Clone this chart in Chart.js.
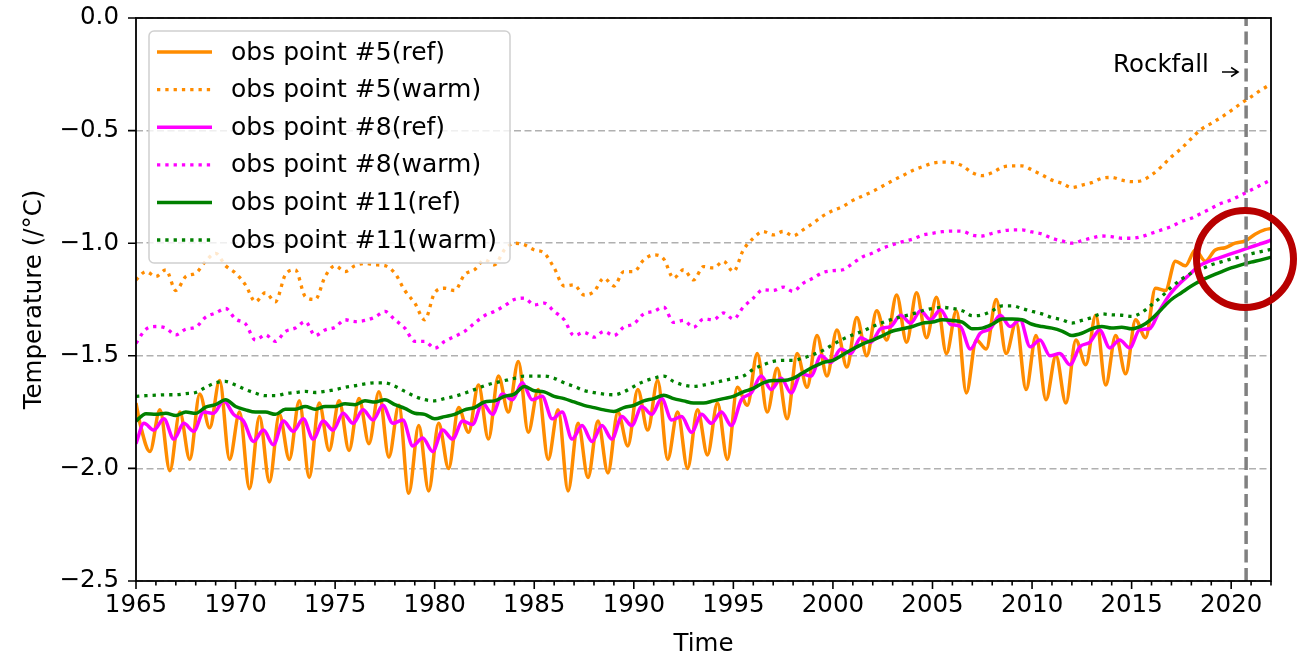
<!DOCTYPE html>
<html>
<head>
<meta charset="utf-8">
<title>Temperature at observation points</title>
<script src="https://cdn.jsdelivr.net/npm/chart.js@4.4.1/dist/chart.umd.min.js"></script>
<style>
  html, body { margin: 0; padding: 0; background: #ffffff; }
  #wrap { width: 1298px; height: 660px; }
</style>
</head>
<body>
<div id="wrap"><canvas id="chart" width="1298" height="660"></canvas></div>
<script>
// ---- time grids (decimal years) ----
// ref series are sampled at their seasonal peaks / troughs, the others every half year
const yearsHalf = [];
for (let i = 0; i <= 114; i++) yearsHalf.push(1965 + i * 0.5);
const yearsRef5 = [1965];
const yearsRef8 = [1965];
for (let i = 0; i < 114; i++) {
    yearsRef5.push(+(1965.2 + i * 0.5).toFixed(1));
    yearsRef8.push(+(1965.4 + i * 0.5).toFixed(1));
}
yearsRef5.push(2022);
yearsRef8.push(2022);

// ---- series values (°C) ----
const ref5 = [-1.71,
    -1.80, -1.925, -1.74, -2.01, -1.75, -1.96, -1.67, -1.82, -1.61, -1.96,   // 1965-69
    -1.75, -2.09, -1.77, -2.06, -1.76, -1.96, -1.70, -2.04, -1.71, -1.92,    // 1970-74
    -1.70, -1.92, -1.69, -1.89, -1.66, -1.95, -1.72, -2.11, -1.81, -2.10,    // 1975-79
    -1.80, -2.00, -1.73, -1.84, -1.63, -1.87, -1.59, -1.75, -1.525, -1.84,   // 1980-84
    -1.65, -1.96, -1.74, -2.10, -1.80, -2.04, -1.79, -2.02, -1.75, -1.90,    // 1985-89
    -1.65, -1.83, -1.61, -1.96, -1.75, -2.00, -1.74, -1.94, -1.71, -1.96,    // 1990-94
    -1.64, -1.72, -1.49, -1.75, -1.555, -1.78, -1.49, -1.64, -1.41, -1.59,   // 1995-99
    -1.385, -1.55, -1.33, -1.50, -1.30, -1.43, -1.23, -1.44, -1.22, -1.42,   // 2000-04
    -1.24, -1.49, -1.30, -1.665, -1.43, -1.47, -1.25, -1.49, -1.35, -1.65,   // 2005-09
    -1.41, -1.695, -1.50, -1.71, -1.43, -1.54, -1.32, -1.63, -1.41, -1.58,   // 2010-14
    -1.34, -1.42, -1.20, -1.21, -1.08, -1.10, -1.03, -1.08, -1.03, -1.02,    // 2015-19
    -1.00, -0.99, -0.96, -0.94,                                              // 2020-21
    -0.935];

const warm5 = [
    -1.163, -1.126, -1.148, -1.118, -1.21, -1.148, -1.133, -1.08, -1.045, -1.10,   // 1965-69
    -1.133, -1.185, -1.26, -1.22, -1.26, -1.14, -1.118, -1.237, -1.25, -1.148,     // 1970-74
    -1.10, -1.126, -1.10, -1.09, -1.096, -1.10, -1.133, -1.21, -1.266, -1.34,      // 1975-79
    -1.22, -1.20, -1.21, -1.14, -1.118, -1.074, -1.096, -1.03, -1.00, -1.007,      // 1980-84
    -1.03, -1.044, -1.11, -1.19, -1.185, -1.23, -1.215, -1.155, -1.19, -1.126,     // 1985-89
    -1.126, -1.074, -1.052, -1.07, -1.155, -1.118, -1.163, -1.104, -1.11, -1.08,   // 1990-94
    -1.126, -1.03, -0.978, -0.948, -0.963, -0.948, -0.967, -0.941, -0.911, -0.879, // 1995-99
    -0.855, -0.837, -0.81, -0.79, -0.77, -0.746, -0.722, -0.70, -0.677, -0.66,     // 2000-04
    -0.645, -0.64, -0.642, -0.656, -0.687, -0.70, -0.687, -0.663, -0.657, -0.657,  // 2005-09
    -0.675, -0.697, -0.72, -0.734, -0.753, -0.742, -0.731, -0.712, -0.708, -0.72,  // 2010-14
    -0.727, -0.722, -0.697, -0.66, -0.616, -0.579, -0.535, -0.494, -0.468, -0.441, // 2015-19
    -0.411, -0.379, -0.35, -0.32,                                                  // 2020-21
    -0.293];

const ref8 = [-1.89,
    -1.80, -1.83, -1.78, -1.87, -1.80, -1.835, -1.75, -1.755, -1.70, -1.76,     // 1965-69
    -1.79, -1.88, -1.83, -1.895, -1.79, -1.835, -1.78, -1.87, -1.79, -1.83,     // 1970-74
    -1.755, -1.80, -1.74, -1.785, -1.72, -1.80, -1.785, -1.90, -1.865, -1.925,  // 1975-79
    -1.83, -1.87, -1.79, -1.805, -1.71, -1.76, -1.67, -1.695, -1.62, -1.695,    // 1980-84
    -1.68, -1.78, -1.75, -1.87, -1.81, -1.88, -1.81, -1.87, -1.77, -1.81,       // 1985-89
    -1.725, -1.76, -1.69, -1.785, -1.77, -1.84, -1.76, -1.80, -1.75, -1.81,     // 1990-94
    -1.695, -1.665, -1.59, -1.65, -1.60, -1.665, -1.58, -1.59, -1.50, -1.53,    // 1995-99
    -1.47, -1.49, -1.42, -1.44, -1.38, -1.37, -1.32, -1.355, -1.30, -1.34,      // 2000-04
    -1.295, -1.36, -1.37, -1.47, -1.40, -1.38, -1.32, -1.37, -1.34, -1.46,      // 2005-09
    -1.43, -1.50, -1.49, -1.54, -1.46, -1.44, -1.385, -1.465, -1.43, -1.465,    // 2010-14
    -1.385, -1.38, -1.30, -1.23, -1.18, -1.14, -1.10, -1.08, -1.065, -1.05,     // 2015-19
    -1.035, -1.02, -1.005, -0.99,                                               // 2020-21
    -0.985];

const warm8 = [
    -1.444, -1.382, -1.37, -1.377, -1.407, -1.382, -1.373, -1.328, -1.31, -1.29,   // 1965-69
    -1.337, -1.358, -1.43, -1.407, -1.436, -1.392, -1.377, -1.348, -1.41, -1.385,  // 1970-74
    -1.373, -1.34, -1.348, -1.343, -1.328, -1.303, -1.34, -1.377, -1.436, -1.436,  // 1975-79
    -1.466, -1.436, -1.414, -1.392, -1.355, -1.322, -1.303, -1.278, -1.25, -1.244, // 1980-84
    -1.274, -1.266, -1.303, -1.34, -1.41, -1.396, -1.417, -1.392, -1.41, -1.373,   // 1985-89
    -1.358, -1.314, -1.303, -1.284, -1.352, -1.343, -1.373, -1.337, -1.34, -1.31,  // 1990-94
    -1.337, -1.284, -1.244, -1.207, -1.21, -1.195, -1.214, -1.178, -1.155, -1.13,  // 1995-99
    -1.122, -1.118, -1.089, -1.06, -1.044, -1.022, -1.007, -0.993, -0.982, -0.964, // 2000-04
    -0.956, -0.949, -0.946, -0.947, -0.964, -0.968, -0.956, -0.946, -0.941, -0.941,// 2005-09
    -0.95, -0.959, -0.978, -0.99, -1.0, -0.989, -0.977, -0.968, -0.971, -0.978,    // 2010-14
    -0.978, -0.971, -0.956, -0.941, -0.926, -0.904, -0.889, -0.867, -0.845, -0.823,// 2015-19
    -0.808, -0.786, -0.764, -0.741,                                                // 2020-21
    -0.719];

const ref11 = [
    -1.79, -1.757, -1.76, -1.755, -1.765, -1.75, -1.755, -1.728, -1.717, -1.695,   // 1965-69
    -1.725, -1.74, -1.75, -1.75, -1.76, -1.737, -1.737, -1.725, -1.737, -1.725,    // 1970-74
    -1.725, -1.713, -1.717, -1.70, -1.705, -1.695, -1.717, -1.733, -1.755, -1.76,  // 1975-79
    -1.78, -1.77, -1.76, -1.74, -1.73, -1.705, -1.70, -1.68, -1.67, -1.636,        // 1980-84
    -1.655, -1.66, -1.68, -1.69, -1.705, -1.72, -1.73, -1.74, -1.747, -1.73,       // 1985-89
    -1.72, -1.70, -1.69, -1.675, -1.69, -1.70, -1.71, -1.71, -1.70, -1.69,         // 1990-94
    -1.68, -1.66, -1.645, -1.62, -1.61, -1.61, -1.60, -1.575, -1.55, -1.53,        // 1995-99
    -1.52, -1.495, -1.47, -1.447, -1.43, -1.41, -1.39, -1.38, -1.37, -1.355,       // 2000-04
    -1.35, -1.34, -1.343, -1.35, -1.38, -1.377, -1.36, -1.337, -1.337, -1.34,      // 2005-09
    -1.36, -1.37, -1.377, -1.39, -1.41, -1.40, -1.38, -1.37, -1.377, -1.373,       // 2010-14
    -1.38, -1.367, -1.337, -1.293, -1.25, -1.22, -1.19, -1.165, -1.145, -1.127,    // 2015-19
    -1.11, -1.096, -1.084, -1.074,                                                 // 2020-21
    -1.062];

const warm11 = [
    -1.68, -1.677, -1.675, -1.673, -1.673, -1.668, -1.663, -1.64, -1.62, -1.614,   // 1965-69
    -1.63, -1.65, -1.666, -1.677, -1.677, -1.668, -1.663, -1.658, -1.663, -1.658,  // 1970-74
    -1.65, -1.64, -1.633, -1.625, -1.62, -1.62, -1.635, -1.658, -1.68, -1.695,     // 1975-79
    -1.70, -1.69, -1.68, -1.666, -1.65, -1.633, -1.62, -1.61, -1.60, -1.59,        // 1980-84
    -1.59, -1.59, -1.60, -1.62, -1.636, -1.654, -1.663, -1.67, -1.673, -1.66,      // 1985-89
    -1.636, -1.614, -1.60, -1.59, -1.614, -1.63, -1.636, -1.63, -1.62, -1.61,      // 1990-94
    -1.60, -1.59, -1.56, -1.54, -1.525, -1.52, -1.52, -1.51, -1.495, -1.476,       // 1995-99
    -1.45, -1.426, -1.407, -1.39, -1.37, -1.352, -1.337, -1.325, -1.314, -1.30,    // 2000-04
    -1.29, -1.285, -1.29, -1.30, -1.322, -1.318, -1.30, -1.278, -1.278, -1.29,     // 2005-09
    -1.303, -1.314, -1.33, -1.34, -1.355, -1.343, -1.33, -1.314, -1.318, -1.32,    // 2010-14
    -1.325, -1.308, -1.274, -1.237, -1.195, -1.16, -1.133, -1.115, -1.096, -1.083, // 2015-19
    -1.07, -1.06, -1.047, -1.037,                                                  // 2020-21
    -1.027];

const seriesNames = ['obs point #5(ref)', 'obs point #5(warm)', 'obs point #8(ref)',
                     'obs point #8(warm)', 'obs point #11(ref)', 'obs point #11(warm)'];
const xTickYears = [1965, 1970, 1975, 1980, 1985, 1990, 1995, 2000, 2005, 2010, 2015, 2020];
const yTickValues = [0, -0.5, -1.0, -1.5, -2.0, -2.5];
const rockfallYear = 2020.75;

const FONT = '"DejaVu Sans", "Liberation Sans", sans-serif';
const dotted = [3.3, 5];

function toPoints(xs, ys) {
    return ys.map((v, i) => ({ x: xs[i], y: v }));
}

const seriesDefs = [
    { label: seriesNames[0], xs: yearsRef5, ys: ref5, color: '#ff8c00', dash: [] },
    { label: seriesNames[1], xs: yearsHalf, ys: warm5, color: '#ff8c00', dash: dotted },
    { label: seriesNames[2], xs: yearsRef8, ys: ref8, color: '#ff00ff', dash: [] },
    { label: seriesNames[3], xs: yearsHalf, ys: warm8, color: '#ff00ff', dash: dotted },
    { label: seriesNames[4], xs: yearsHalf, ys: ref11, color: '#008000', dash: [] },
    { label: seriesNames[5], xs: yearsHalf, ys: warm11, color: '#008000', dash: dotted }
];

function fmtTemp(v) {
    if (Math.abs(v) < 1e-9) return '0.0';
    return v.toFixed(1).replace('-', '\u2212');
}

// frame, minor ticks, legend, rockfall marker, circle
const decorations = {
    id: 'decorations',
    afterDatasetsDraw(chart) {
        const { ctx, chartArea: a, scales: { x, y } } = chart;
        ctx.save();

        // rockfall line
        const rx = x.getPixelForValue(rockfallYear);
        ctx.strokeStyle = '#808080';
        ctx.lineWidth = 3.5;
        ctx.setLineDash([13, 5.5]);
        ctx.beginPath();
        ctx.moveTo(rx, a.bottom);
        ctx.lineTo(rx, a.top);
        ctx.stroke();
        ctx.setLineDash([]);

        // frame
        ctx.strokeStyle = '#000';
        ctx.lineWidth = 1.8;
        ctx.strokeRect(a.left, a.top, a.right - a.left, a.bottom - a.top);

        // ticks
        ctx.lineWidth = 1.6;
        ctx.beginPath();
        for (let yr = 1965; yr <= 2022; yr++) {
            const px = x.getPixelForValue(yr);
            const len = yr % 5 === 0 ? 8 : 4.5;
            ctx.moveTo(px, a.bottom);
            ctx.lineTo(px, a.bottom + len);
        }
        yTickValues.forEach(v => {
            const py = y.getPixelForValue(v);
            ctx.moveTo(a.left, py);
            ctx.lineTo(a.left - 8, py);
        });
        ctx.stroke();

        // axis titles
        ctx.fillStyle = '#000';
        ctx.font = '24.5px ' + FONT;
        ctx.textAlign = 'center';
        ctx.textBaseline = 'middle';
        ctx.fillText('Time', (a.left + a.right) / 2, 645);
        ctx.save();
        ctx.translate(35, (a.top + a.bottom) / 2);
        ctx.rotate(-Math.PI / 2);
        ctx.fillText('Temperature (/\u00b0C)', 0, 0);
        ctx.restore();

        // rockfall label + arrow
        ctx.textAlign = 'left';
        ctx.fillText('Rockfall', 1113, 66);
        ctx.lineWidth = 1.5;
        ctx.beginPath();
        ctx.moveTo(1222, 72);
        ctx.lineTo(rx - 8, 72);
        ctx.moveTo(rx - 15, 67.5);
        ctx.lineTo(rx - 8, 72);
        ctx.lineTo(rx - 15, 76.5);
        ctx.stroke();

        // legend
        const lx = 149, ly = 31, lw = 361, lh = 232, r = 5;
        ctx.beginPath();
        ctx.moveTo(lx + r, ly);
        ctx.arcTo(lx + lw, ly, lx + lw, ly + lh, r);
        ctx.arcTo(lx + lw, ly + lh, lx, ly + lh, r);
        ctx.arcTo(lx, ly + lh, lx, ly, r);
        ctx.arcTo(lx, ly, lx + lw, ly, r);
        ctx.closePath();
        ctx.fillStyle = 'rgba(255,255,255,0.8)';
        ctx.fill();
        ctx.strokeStyle = '#d0d0d0';
        ctx.lineWidth = 1.5;
        ctx.stroke();

        ctx.font = '25px ' + FONT;
        ctx.textBaseline = 'middle';
        chart.data.datasets.forEach((ds, i) => {
            const rowY = 52 + i * 37.6;
            ctx.strokeStyle = ds.borderColor;
            ctx.lineWidth = ds.borderWidth;
            ctx.setLineDash(ds.borderDash);
            ctx.beginPath();
            ctx.moveTo(157, rowY);
            ctx.lineTo(212, rowY);
            ctx.stroke();
            ctx.setLineDash([]);
            ctx.fillStyle = '#000';
            ctx.fillText(ds.label, 231, rowY + 1);
        });

        // highlight circle
        ctx.strokeStyle = '#b80000';
        ctx.lineWidth = 7;
        ctx.beginPath();
        ctx.arc(1245, 259, 48.5, 0, Math.PI * 2);
        ctx.stroke();

        ctx.restore();
    }
};

new Chart(document.getElementById('chart'), {
    type: 'line',
    data: {
        datasets: seriesDefs.map((s, i) => ({
            label: s.label,
            data: toPoints(s.xs, s.ys),
            borderColor: s.color,
            backgroundColor: s.color,
            borderWidth: s.dash.length ? 3.3 : 3.5,
            borderDash: s.dash,
            borderCapStyle: 'butt',
            fill: false,
            pointRadius: 0,
            cubicInterpolationMode: 'monotone',
            clip: 0,
            order: 6 - i
        }))
    },
    options: {
        responsive: false,
        animation: false,
        devicePixelRatio: 1,
        layout: { padding: { top: 18, right: 27, bottom: 0, left: 0 } },
        plugins: { legend: { display: false }, tooltip: { enabled: false } },
        scales: {
            x: {
                type: 'linear',
                min: 1965,
                max: 2022,
                grid: { display: false, drawTicks: false },
                border: { display: false },
                afterBuildTicks: s => { s.ticks = xTickYears.map(v => ({ value: v })); },
                afterFit: s => { s.height = 79; s.paddingLeft = 0; s.paddingRight = 0; },
                ticks: {
                    font: { family: FONT, size: 24.5 },
                    color: '#000',
                    padding: 10,
                    maxRotation: 0,
                    autoSkip: false,
                    callback: v => String(v)
                }
            },
            y: {
                type: 'linear',
                min: -2.5,
                max: 0,
                grid: { color: '#b0b0b0', lineWidth: 1.6, drawTicks: false },
                border: { display: false, dash: [7, 3.5] },
                afterBuildTicks: s => { s.ticks = yTickValues.map(v => ({ value: v })); },
                afterFit: s => { s.width = 136; s.paddingTop = 0; s.paddingBottom = 0; },
                ticks: {
                    font: { family: FONT, size: 24.5 },
                    color: '#000',
                    padding: 17,
                    callback: v => fmtTemp(v)
                }
            }
        }
    },
    plugins: [decorations]
});
</script>
</body>
</html>
